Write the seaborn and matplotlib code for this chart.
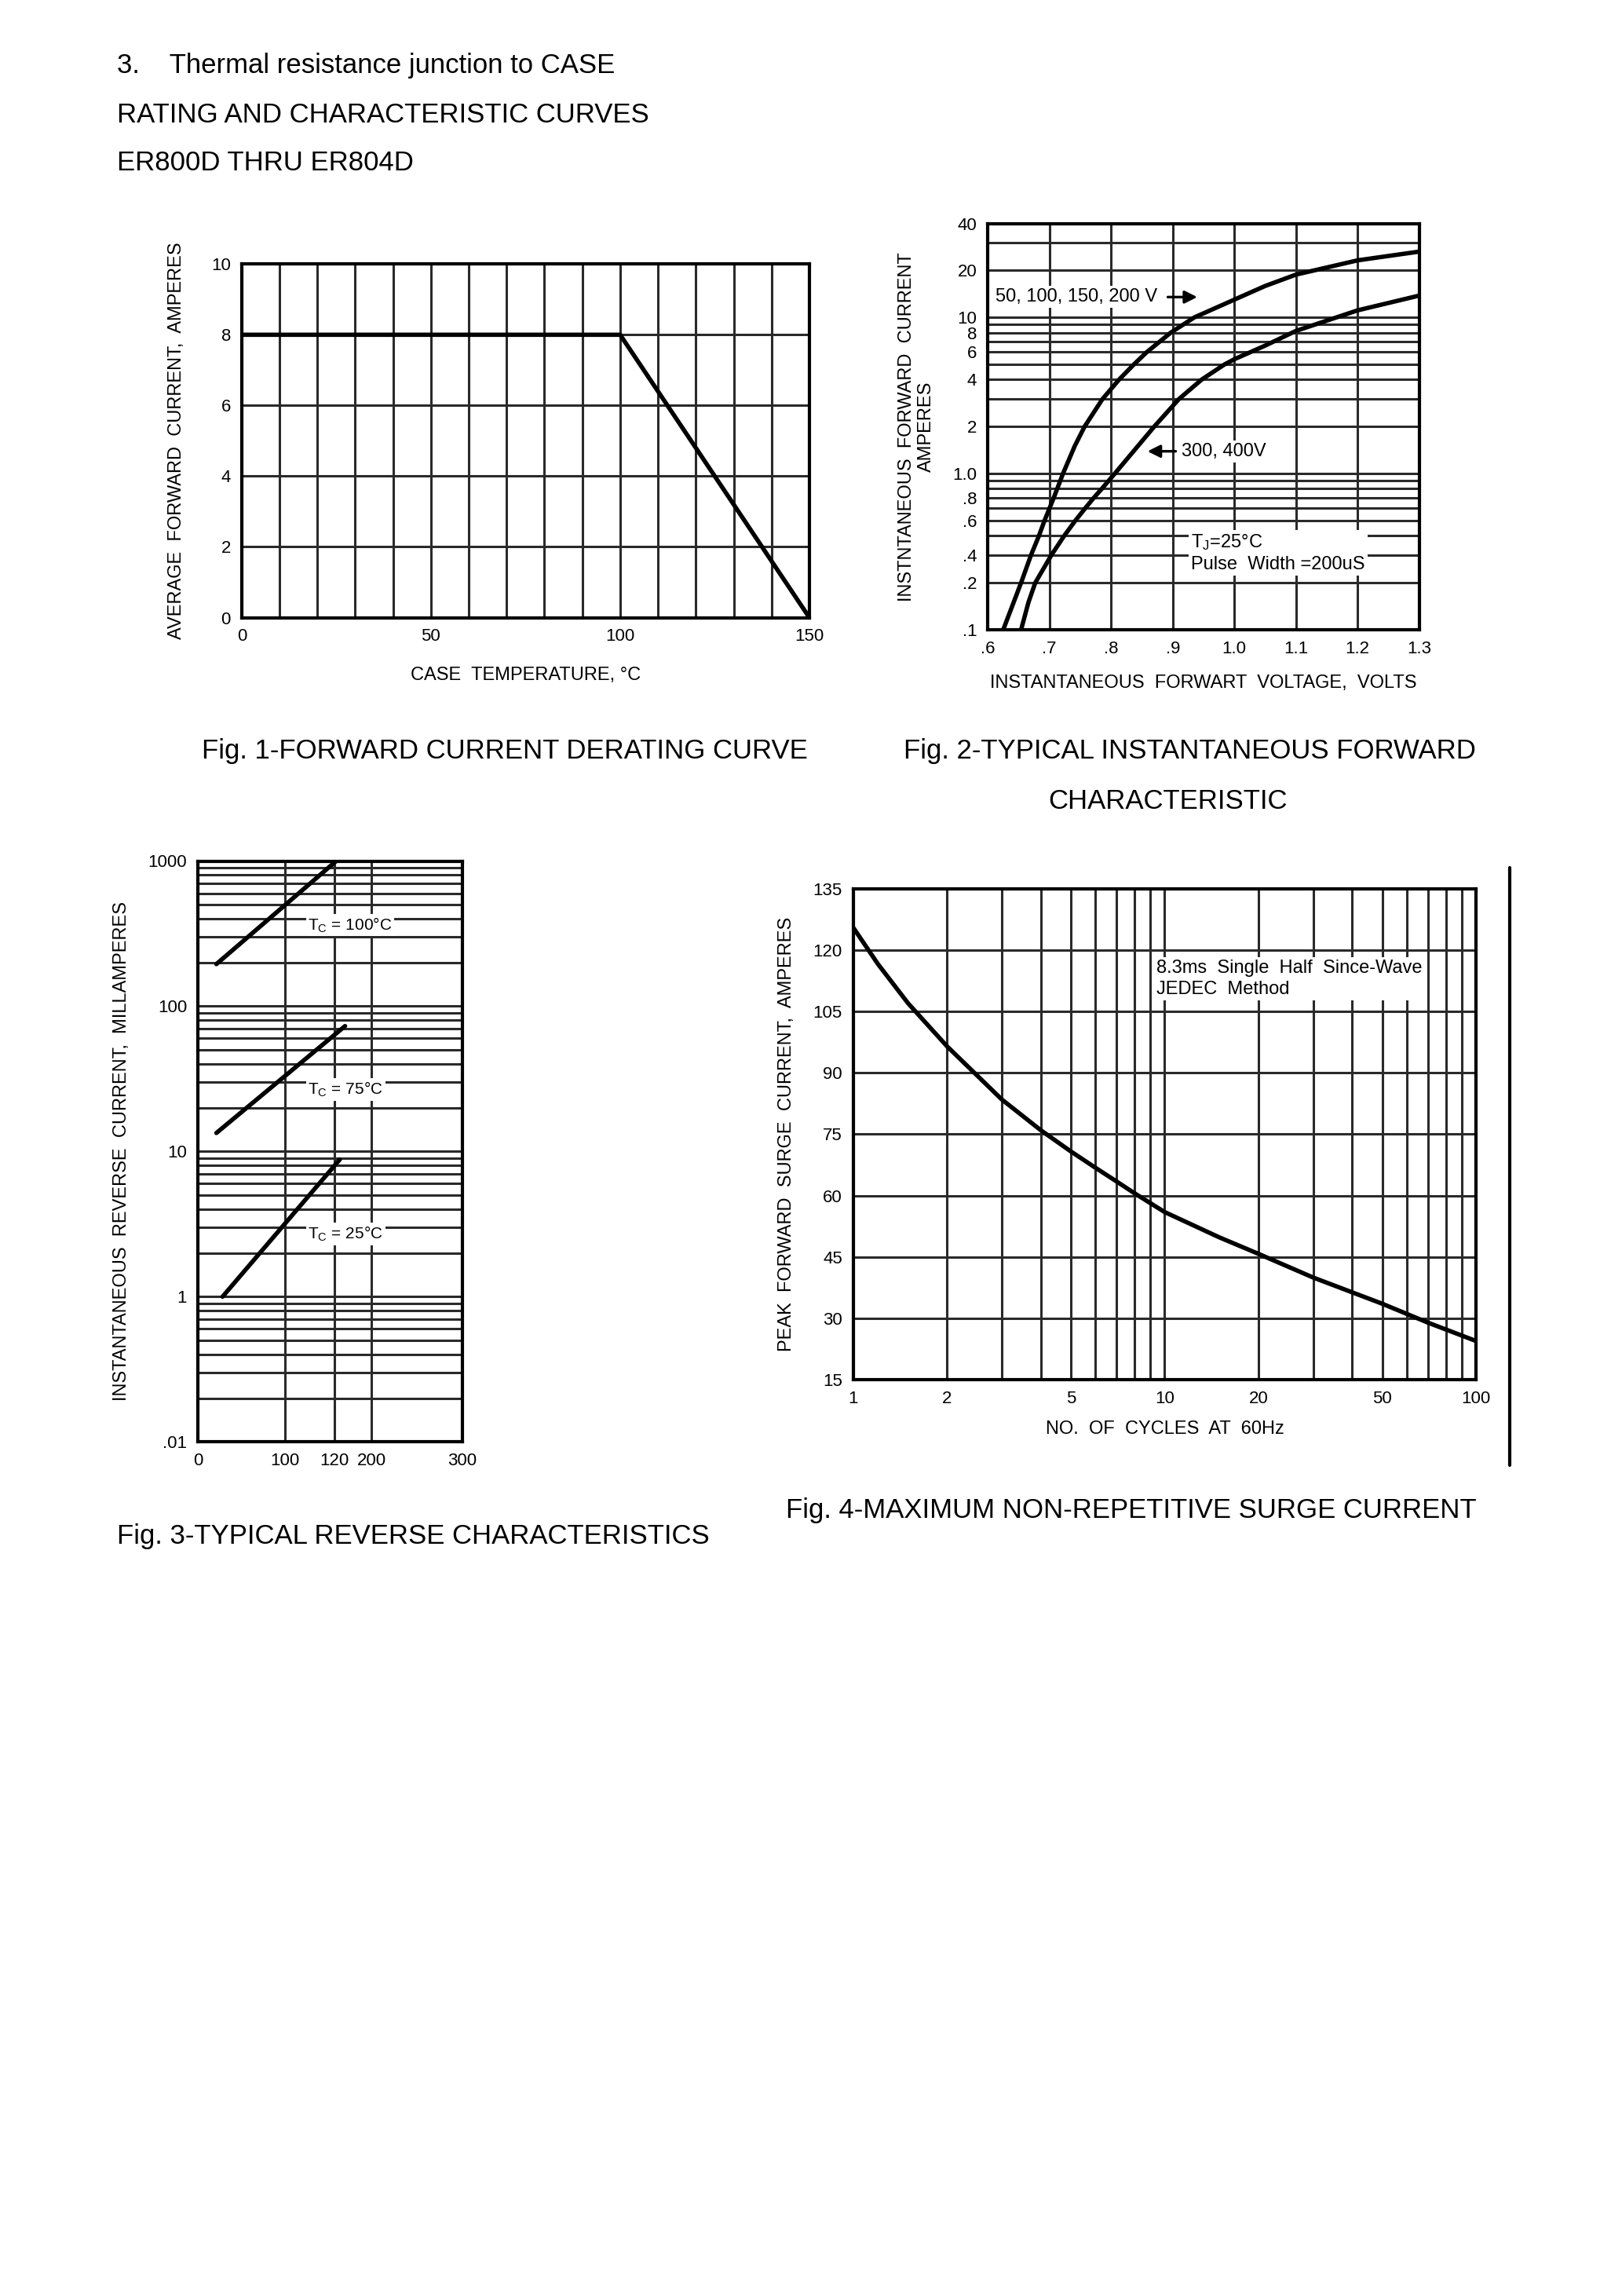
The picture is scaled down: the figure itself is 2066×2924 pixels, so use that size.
import matplotlib
matplotlib.use("Agg")
import pandas as pd
import seaborn as sns
import matplotlib.pyplot as plt
from matplotlib.lines import Line2D
from matplotlib.ticker import FixedLocator, LogLocator, NullFormatter

# Fig. 1 - forward current derating
derate_temp = [0, 100, 150]
derate_amps = [8, 8, 0]

# Fig. 2 - typical instantaneous forward characteristic
fwd_v_low = [0.625, 0.654, 0.670, 0.683, 0.692, 0.707, 0.722, 0.741, 0.757, 0.786,
             0.813, 0.837, 0.858, 0.897, 0.935, 1.000, 1.050, 1.100, 1.200, 1.300]
fwd_i_low = [0.10, 0.20, 0.30, 0.40, 0.50, 0.70, 1.00, 1.50, 2.0, 3.0,
             4.0, 5.0, 6.0, 8.0, 10.0, 13.0, 15.9, 18.8, 23.2, 26.4]
fwd_v_high = [0.654, 0.666, 0.677, 0.703, 0.724, 0.742, 0.758, 0.772, 0.785, 0.806,
              0.870, 0.910, 0.947, 0.984, 1.000, 1.050, 1.100, 1.200, 1.300]
fwd_i_high = [0.10, 0.15, 0.20, 0.30, 0.40, 0.50, 0.60, 0.70, 0.80, 1.00,
              2.0, 3.0, 4.0, 5.0, 5.4, 6.6, 8.2, 11.1, 13.8]
# the printed labels of the lower decade sit one grid line off in the original
fwd_yticks = [0.1, 0.2, 0.3, 0.5, 0.7, 1, 2, 4, 6, 8, 10, 20, 40]
fwd_ylabels = ['.1', '.2', '.4', '.6', '.8', '1.0', '2', '4', '6', '8', '10', '20', '40']
fwd_xticks = [0.6, 0.7, 0.8, 0.9, 1.0, 1.1, 1.2, 1.3]
fwd_xlabels = ['.6', '.7', '.8', '.9', '1.0', '1.1', '1.2', '1.3']

# Fig. 3 - typical reverse characteristics (x axis is not linear in the original)
rev_xticks = [0, 99, 155, 197, 300]
rev_xlabels = ['0', '100', '120', '200', '300']
rev_yticks = [0.1, 1, 10, 100, 1000]
rev_ylabels = ['.01', '1', '10', '100', '1000']
rev_100_x, rev_100_y = [21, 157], [195, 1000]
rev_75_x, rev_75_y = [21, 167], [13.4, 73]
rev_25_x, rev_25_y = [28, 161], [1.0, 8.8]

# Fig. 4 - maximum non-repetitive surge current
cycles = [1, 1.2, 1.5, 2, 3, 4, 5, 6, 7, 8, 10, 15, 20, 30, 50, 70, 100]
surge = [125.5, 116.6, 107, 96.5, 83.5, 76, 70.8, 66.8, 63.5, 60.6, 56, 49.8, 45.8, 40, 33.6, 29, 24.5]
surge_xticks = [1, 2, 5, 10, 20, 50, 100]
surge_yticks = [15, 30, 45, 60, 75, 90, 105, 120, 135]

sns.set_theme(style="white")
plt.rcParams['font.family'] = ['Liberation Sans', 'DejaVu Sans']
plt.rcParams['axes.edgecolor'] = 'black'
plt.rcParams['axes.linewidth'] = 1.5
plt.rcParams['text.color'] = 'black'
plt.rcParams['axes.labelcolor'] = 'black'
plt.rcParams['xtick.color'] = 'black'
plt.rcParams['ytick.color'] = 'black'

fig = plt.figure(figsize=(10.33, 14.62), dpi=200)

GRID = dict(color='#2a2a2a', lw=1.1)
CURVE = dict(color='black', lw=2.0)
TICK = 8
LAB = 8.5


def paper(ax):
    ax.grid(True, which='both', **GRID)
    ax.tick_params(which='both', length=0, labelsize=TICK, pad=5)
    for s in ax.spines.values():
        s.set_visible(True)
        s.set_color('black')


def header(x, y, s, **kw):
    fig.text(x, y, s, fontsize=12.5, va='center', **kw)


header(0.0723, 0.9713, "3.    Thermal resistance junction to CASE")
header(0.0723, 0.950, "RATING AND CHARACTERISTIC CURVES")
header(0.0723, 0.929, "ER800D THRU ER804D")

# ---- Fig 1
ax1 = fig.add_axes([0.149, 0.731, 0.350, 0.154])
sns.lineplot(x=derate_temp, y=derate_amps, ax=ax1, **CURVE)
ax1.set_xlim(0, 150)
ax1.set_ylim(0, 10)
ax1.xaxis.set_major_locator(FixedLocator([0, 50, 100, 150]))
ax1.xaxis.set_minor_locator(FixedLocator(list(range(10, 150, 10))))
ax1.yaxis.set_major_locator(FixedLocator([0, 2, 4, 6, 8, 10]))
paper(ax1)
ax1.set_xlabel("CASE  TEMPERATURE, °C", fontsize=LAB, labelpad=10)
ax1.set_ylabel("AVERAGE  FORWARD  CURRENT,  AMPERES", fontsize=LAB, labelpad=12)
fig.text(0.1246, 0.673, "Fig. 1-FORWARD CURRENT DERATING CURVE", fontsize=12.5, va='center')

# ---- Fig 2
ax2 = fig.add_axes([0.609, 0.7257, 0.266, 0.177])
sns.lineplot(x=fwd_v_low, y=fwd_i_low, ax=ax2, sort=False, **CURVE)
sns.lineplot(x=fwd_v_high, y=fwd_i_high, ax=ax2, sort=False, **CURVE)
ax2.set_yscale('log')
ax2.set_xlim(0.6, 1.3)
ax2.set_ylim(0.1, 40)
ax2.xaxis.set_major_locator(FixedLocator(fwd_xticks))
ax2.set_xticklabels(fwd_xlabels)
ax2.yaxis.set_major_locator(FixedLocator(fwd_yticks))
ax2.set_yticklabels(fwd_ylabels)
ax2.yaxis.set_minor_locator(LogLocator(base=10, subs=range(1, 10)))
ax2.yaxis.set_minor_formatter(NullFormatter())
paper(ax2)
ax2.set_xlabel("INSTANTANEOUS  FORWART  VOLTAGE,  VOLTS", fontsize=LAB, labelpad=8)
ax2.set_ylabel("INSTNTANEOUS  FORWARD  CURRENT\nAMPERES", fontsize=LAB, labelpad=8)
ax2.text(0.612, 13.5, "50, 100, 150, 200 V", fontsize=8.5, va='center',
         bbox=dict(facecolor='white', edgecolor='none', pad=1))
ax2.annotate('', xy=(0.947, 13.5), xytext=(0.885, 13.5),
             arrowprops=dict(arrowstyle='-|>', color='black', lw=1.2))
ax2.text(0.914, 1.39, "300, 400V", fontsize=8.5, va='center',
         bbox=dict(facecolor='white', edgecolor='none', pad=1))
ax2.annotate('', xy=(0.852, 1.39), xytext=(0.912, 1.39),
             arrowprops=dict(arrowstyle='-|>', color='black', lw=1.2))
ax2.text(0.930, 0.31, "$\\mathregular{T_J}$=25°C\nPulse  Width =200uS", fontsize=8.5,
         va='center', linespacing=1.3,
         bbox=dict(facecolor='white', edgecolor='none', pad=1))
fig.text(0.557, 0.673, "Fig. 2-TYPICAL INSTANTANEOUS FORWARD", fontsize=12.5, va='center')
fig.text(0.720, 0.651, "CHARACTERISTIC", fontsize=12.5, va='center', ha='center')

# ---- Fig 3
ax3 = fig.add_axes([0.122, 0.372, 0.163, 0.253])
for xs, ys in [(rev_100_x, rev_100_y), (rev_75_x, rev_75_y), (rev_25_x, rev_25_y)]:
    sns.lineplot(x=xs, y=ys, ax=ax3, **CURVE)
ax3.set_yscale('log')
ax3.set_xlim(0, 300)
ax3.set_ylim(0.1, 1000)
ax3.xaxis.set_major_locator(FixedLocator(rev_xticks))
ax3.set_xticklabels(rev_xlabels)
ax3.yaxis.set_major_locator(FixedLocator(rev_yticks))
ax3.set_yticklabels(rev_ylabels)
ax3.yaxis.set_minor_locator(LogLocator(base=10, subs=range(1, 10)))
ax3.yaxis.set_minor_formatter(NullFormatter())
paper(ax3)
ax3.set_ylabel("INSTANTANEOUS  REVERSE  CURRENT,  MILLAMPERES", fontsize=LAB, labelpad=8)
for y, t in [(363, "100"), (26.6, "75"), (2.7, "25")]:
    ax3.text(125, y, "$\\mathregular{T_C}$ = " + t + "°C", fontsize=7.5, va='center',
             bbox=dict(facecolor='white', edgecolor='none', pad=1))
fig.text(0.0723, 0.331, "Fig. 3-TYPICAL REVERSE CHARACTERISTICS", fontsize=12.5, va='center')

# ---- Fig 4
ax4 = fig.add_axes([0.526, 0.399, 0.384, 0.214])
sns.lineplot(x=cycles, y=surge, ax=ax4, **CURVE)
ax4.set_xscale('log')
ax4.set_xlim(1, 100)
ax4.set_ylim(15, 135)
ax4.xaxis.set_major_locator(FixedLocator(surge_xticks))
ax4.set_xticklabels([str(v) for v in surge_xticks])
ax4.xaxis.set_minor_locator(LogLocator(base=10, subs=range(1, 10)))
ax4.xaxis.set_minor_formatter(NullFormatter())
ax4.yaxis.set_major_locator(FixedLocator(surge_yticks))
paper(ax4)
ax4.set_xlabel("NO.  OF  CYCLES  AT  60Hz", fontsize=LAB, labelpad=6)
ax4.set_ylabel("PEAK  FORWARD  SURGE  CURRENT,  AMPERES", fontsize=LAB, labelpad=8)
ax4.text(9.4, 113, "8.3ms  Single  Half  Since-Wave\nJEDEC  Method", fontsize=8.5,
         va='center', linespacing=1.3,
         bbox=dict(facecolor='white', edgecolor='none', pad=1))
fig.text(0.4847, 0.342, "Fig. 4-MAXIMUM NON-REPETITIVE SURGE CURRENT", fontsize=12.5, va='center')

fig.add_artist(Line2D([0.931, 0.931], [0.362, 0.622], color='black', lw=1.5))

fig.savefig("out.png", dpi=200, facecolor='white')
